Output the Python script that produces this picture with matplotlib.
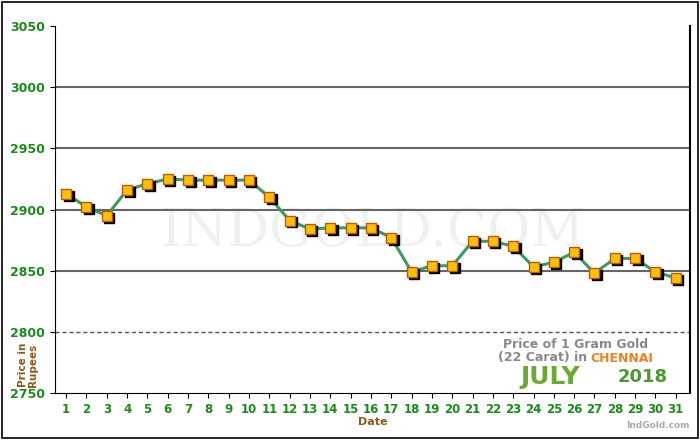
import matplotlib
matplotlib.use("Agg")
import matplotlib.pyplot as plt
from matplotlib.patches import Rectangle

dates = list(range(1, 32))
prices = [2913, 2902, 2895, 2916, 2921, 2925, 2924, 2924, 2924, 2924, 2910, 2891,
          2884, 2885, 2885, 2885, 2877, 2849, 2854, 2854, 2874, 2874, 2870, 2853,
          2857, 2865, 2848, 2860, 2860, 2849, 2844]
yticks = [2750, 2800, 2850, 2900, 2950, 3000, 3050]

fig = plt.figure(figsize=(7, 4.4), dpi=100)
fig.patches.append(Rectangle((0.003, 0.005), 0.994, 0.99, transform=fig.transFigure,
                             fill=False, edgecolor='black', linewidth=1.2))
ax = fig.add_axes([55/700, 1-393/440, 635/700, 367/440])
ax.set_xlim(0.45, 31.7)
ax.set_ylim(2750, 3050)
for v in [2850, 2900, 2950, 3000]:
    ax.axhline(v, color='#666666', lw=1.5, zorder=1)
ax.axhline(2800, color='#555555', lw=1, ls=(0, (3, 2)), zorder=1)
ax.text(0.5, 0.44, 'INDGOLD.COM', transform=ax.transAxes, ha='center', va='center',
        fontsize=38, family='DejaVu Serif', color='#eef2ee', zorder=0)
ax.plot(dates, prices, color='#3a9a60', lw=2.2, zorder=2)
ax.plot([d + 0.12 for d in dates], [p - 1.6 for p in prices], 's', color='black', ms=6.5, zorder=3)
ax.plot(dates, prices, 's', color='#ffc000', mec='#b85a10', mew=1, ms=6.5, zorder=4)
ax.set_xticks(dates)
ax.set_yticks(yticks)
ax.tick_params(axis='x', colors='black', labelcolor='#1a8a1a', labelsize=8.5)
ax.tick_params(axis='y', colors='black', labelcolor='#1a8a1a', labelsize=9)
for t in ax.get_xticklabels() + ax.get_yticklabels():
    t.set_fontweight('bold')
ax.spines['top'].set_visible(False)
ax.spines['right'].set_linewidth(1.5)
ax.set_xlabel('Date', color='#8b5a1a', fontweight='bold', fontsize=8, labelpad=1)
fig.text(0.04, 0.17, 'Price in\nRupees', rotation=90, color='#8b5a1a', fontweight='bold',
         fontsize=7.5, ha='center', va='center', linespacing=1.1)
fig.text(576/700, 1-345/440, 'Price of 1 Gram Gold', color='#888888', fontweight='bold', fontsize=9, ha='center', va='center')
fig.text(498/700, 1-358/440, '(22 Carat) in', color='#888888', fontweight='bold', fontsize=9, ha='left', va='center')
fig.text(590/700, 1-358/440, 'CHENNAI', color='#f08020', fontweight='bold', fontsize=9, ha='left', va='center')
fig.text(550/700, 1-377/440, 'JULY', color='#6aaa30', fontweight='heavy', fontsize=18, ha='center', va='center')
fig.text(643/700, 1-377/440, '2018', color='#4a9a30', fontweight='bold', fontsize=13, ha='center', va='center')
fig.text(658/700, 1-425/440, 'IndGold.com', color='#aaaaaa', fontweight='bold', fontsize=6.5, ha='center', va='center')
fig.savefig('out.png', dpi=100)
